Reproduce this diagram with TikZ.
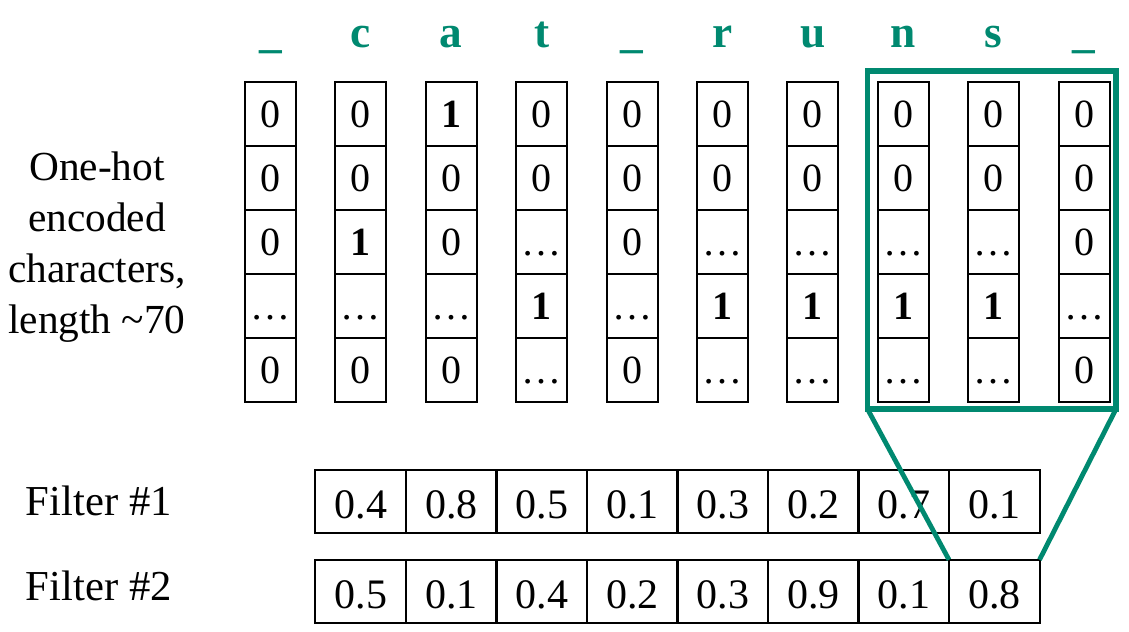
\documentclass[tikz,border=0pt]{standalone}
\usepackage{fontspec}
\setmainfont{Liberation Serif}
\usepackage{tikz}
\definecolor{hdgreen}{RGB}{0,137,112}
\tikzset{
    every node/.style={inner sep=0pt, outer sep=0pt}
}
\tikzset{
    bit/.style={draw, line width=1.5pt, minimum width=38.25pt, minimum height=48pt,
    	text height=20pt, text depth=0pt, font=\fontsize{30}{36}\selectfont},
    wt/.style={draw, line width=1.5pt, minimum width=67.9pt, minimum height=47.25pt,
    	text height=25.5pt, text depth=0pt, font=\fontsize{31.5}{38}\selectfont},
    letter/.style={text=hdgreen, anchor=base, font=\fontsize{34}{40}\selectfont\bfseries},
    lbl/.style={font=\fontsize{31}{38.25}\selectfont}
}
\tikzset{
    window/.style={draw=hdgreen, line width=4.2pt, minimum width=186.4pt, minimum height=253.5pt},
    zoomline/.style={draw=hdgreen, line width=3.6pt}
}

\begin{document}
\begin{tikzpicture}[x=0.75pt,y=-0.75pt]
	\useasboundingbox (0,0) rectangle (1129,632);
	\node (enc) [lbl, align=center] at (97,247.2) {One-hot\\encoded\\characters,\\length \textasciitilde70};
	\node (lab1) [lbl, font=\fontsize{32}{38}\selectfont, anchor=base west] at (26,515) {Filter \#1};
	\node (lab2) [lbl, font=\fontsize{32}{38}\selectfont, anchor=base west] at (26,600) {Filter \#2};
	
	\foreach \ch/\vals [count=\i from 0] in {\_/{0,0,0,\dots,0}, c/{0,0,\textbf{1},\dots,0},
		a/{\textbf{1},0,0,\dots,0}, t/{0,0,\dots,\textbf{1},\dots}, \_/{0,0,0,\dots,0},
		r/{0,0,\dots,\textbf{1},\dots}, u/{0,0,\dots,\textbf{1},\dots}, n/{0,0,\dots,\textbf{1},\dots},
		s/{0,0,\dots,\textbf{1},\dots}, \_/{0,0,0,\dots,0}} {
		\node (h\i) [letter] at ({270.5+90.4*\i},47) {\ch};
		\foreach \v [count=\r from 0] in \vals
			\node (b\i-\r) [bit] at ({270.5+90.4*\i},{113.7+64*\r}) {\v};
	}
	
	\foreach \p/\q [count=\k from 0] in {0.4/0.5, 0.8/0.1, 0.5/0.4, 0.1/0.2,
		0.3/0.3, 0.2/0.9, 0.7/0.1, 0.1/0.8} {
		\node (fa\k) [wt] at ({360.75+90.5*\k},501.35) {\p};
		\node (fb\k) [wt] at ({360.75+90.5*\k},591.25) {\q};
	}
	
	\node (win) [window] at (991.75,240) {};
	\draw [zoomline] (win.south west) -- (fb7.north west);
	\draw [zoomline] (win.south east) -- (fb7.north east);
\end{tikzpicture}
\end{document}
